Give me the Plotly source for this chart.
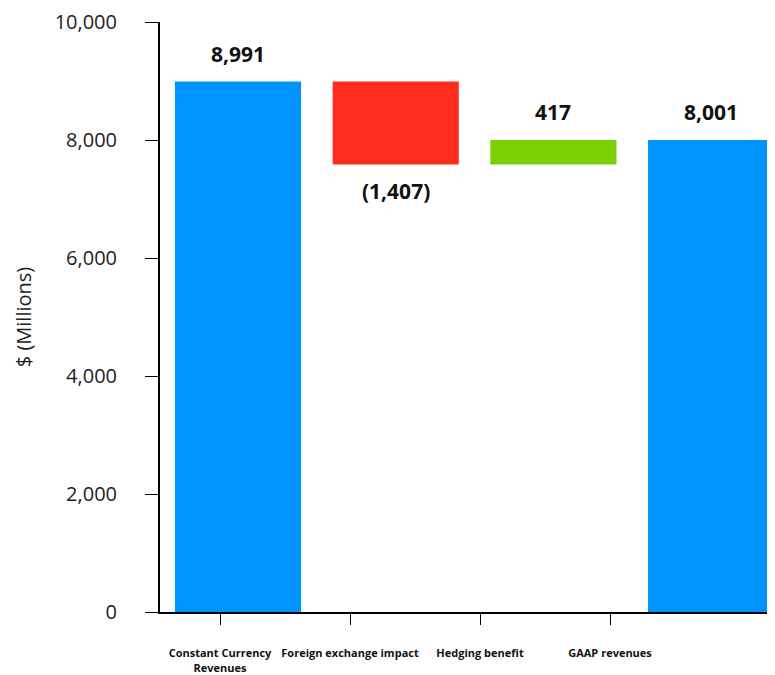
import plotly.graph_objects as go

categories = ["Constant Currency Revenues", "Foreign exchange impact", "Hedging benefit", "GAAP revenues"]
tick_labels = ["Constant Currency<br>Revenues", "Foreign exchange impact", "Hedging benefit", "GAAP revenues"]
values = [8991, -1407, 417, 8001]
measures = ["absolute", "relative", "relative", "total"]
value_labels = ["8,991", "(1,407)", "417", "8,001"]
y_ticks = [0, 2000, 4000, 6000, 8000, 10000]

BLUE = "#0094FF"
RED = "#FF2D1E"
GREEN = "#7BCF04"

fig = go.Figure()
fig.add_trace(go.Waterfall(
    x=categories, y=values, measure=measures,
    totals=dict(marker=dict(color=BLUE)),
    increasing=dict(marker=dict(color=GREEN)),
    decreasing=dict(marker=dict(color=RED)),
    connector=dict(visible=False),
    textinfo="none", hoverinfo="skip", width=0.8,
    xaxis="x", yaxis="y",
))
# invisible trace to carry the label axis
fig.add_trace(go.Scatter(x=[0, 1, 2, 3], y=[0, 0, 0, 0], mode="markers",
                         marker=dict(opacity=0), xaxis="x2", yaxis="y",
                         hoverinfo="skip", showlegend=False))

# labels
running = 0
for cat, v, m, lab in zip(categories, values, measures, value_labels):
    if m == "absolute" or m == "total":
        start, end = 0, v
        running = v
    else:
        start, end = running, running + v
        running = end
    if end >= start:
        fig.add_annotation(x=cat, y=end, text=lab, showarrow=False, yanchor="bottom",
                           yshift=12, xref="x", yref="y",
                           font=dict(family="Open Sans", size=21, color="#111", weight="bold"))
    else:
        fig.add_annotation(x=cat, y=end, text=lab, showarrow=False, yanchor="top",
                           yshift=-10, xref="x", yref="y",
                           font=dict(family="Open Sans", size=21, color="#111", weight="bold"))

fig.update_layout(
    width=767, height=667,
    margin=dict(l=152, r=0, t=14, b=63),
    plot_bgcolor="white", paper_bgcolor="white",
    showlegend=False,
    font=dict(family="Open Sans", color="#222"),
    xaxis=dict(type="category", range=[-0.4946, 3.405], showticklabels=False, ticks="",
               showline=True, linecolor="black", linewidth=2, showgrid=False, zeroline=False,
               automargin=False, fixedrange=True),
    xaxis2=dict(overlaying="x", anchor="y", side="bottom", range=[-0.4615, 4.269],
                tickvals=[0, 1, 2, 3], ticktext=tick_labels, ticks="outside", ticklen=12,
                tickcolor="black", tickwidth=1, showline=False, showgrid=False, zeroline=False,
                tickangle=0, automargin=False,
                tickfont=dict(family="Open Sans", size=11, color="#111", weight="bold"),
                ticklabelstandoff=19),
    yaxis=dict(range=[0, 10000], tickvals=y_ticks, tickformat=",", ticks="outside", ticklen=13,
               tickcolor="black", tickwidth=1, showline=True, linecolor="black", linewidth=2,
               showgrid=False, zeroline=False, automargin=False,
               tickfont=dict(family="Open Sans", size=20, color="#222"),
               ticklabelstandoff=24,
               title=dict(text="$ (Millions)", font=dict(family="Open Sans", size=20, color="#222"),
                          standoff=18)),
)

fig.write_html("out.html")
